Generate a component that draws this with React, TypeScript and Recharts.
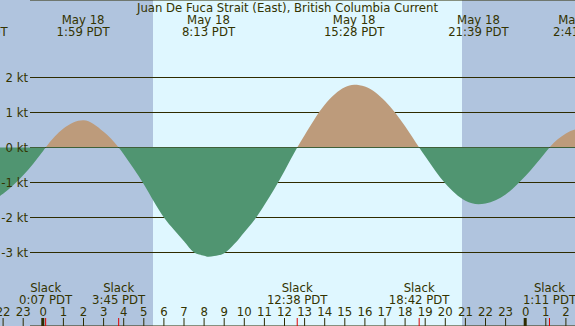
import React from "react";
import { AreaChart, Area, XAxis, YAxis, CartesianGrid } from "recharts";

const TITLE = "Juan De Fuca Strait (East), British Columbia Current";

// hours from midnight May 18 (PDT) and current speed in knots (+ flood / - ebb)
const hours = [
  -2.2, -2, -1, 0, 0.117, 1, 1.983, 2, 3, 3.75, 4, 4.5, 5, 5.5, 6, 6.5, 7, 7.5, 8, 8.217, 8.5, 9, 9.5, 10,
  10.5, 11, 11.5, 12, 12.633, 13, 14, 15, 15.467, 16, 17, 18, 18.7, 19, 20, 21, 21.65, 22, 23, 24, 25,
  25.183, 26, 26.5, 26.683,
];
const knots = [
  -1.4, -1.32, -0.79, -0.09, 0, 0.54, 0.78, 0.78, 0.45, 0, -0.19, -0.61, -1.05, -1.54, -2.0, -2.35, -2.68,
  -3.0, -3.09, -3.12, -3.1, -3.02, -2.76, -2.42, -2.07, -1.64, -1.18, -0.67, 0, 0.35, 1.22, 1.72, 1.79,
  1.74, 1.33, 0.61, 0, -0.25, -1.03, -1.52, -1.62, -1.6, -1.34, -0.81, -0.13, 0, 0.4, 0.52, 0.53,
];

const extremeHours = [-3.28, 1.983, 8.217, 15.467, 21.65, 26.683];
const extremeDates = ["May 17", "May 18", "May 18", "May 18", "May 18", "May 19"];
const extremeTimes = ["20:43 PDT", "1:59 PDT", "8:13 PDT", "15:28 PDT", "21:39 PDT", "2:41 PDT"];

const slackHours = [0.117, 3.75, 12.633, 18.7, 25.183];
const slackTimes = ["0:07 PDT", "3:45 PDT", "12:38 PDT", "18:42 PDT", "1:11 PDT"];

const hourTicks = [-4, -3, -2, -1, 0, 1, 2, 3, 4, 5, 6, 7, 8, 9, 10, 11, 12, 13, 14, 15, 16, 17, 18, 19, 20, 21, 22, 23, 24, 25, 26, 27, 28];
const knotTicks = [-3, -2, -1, 0, 1, 2];

const sunrise = 5.458;
const sunset = 20.83;

// layout
const VIEW_W = 575;
const H = 326;
const PAD = 40; // chart is wider than the view so off-edge labels get clipped
const W = VIEW_W + 2 * PAD;
const PX_PER_HOUR = 20.1;
const X_MIDNIGHT = 43.3;
const PX_PER_KT = 35;
const Y_ZERO = 147.5;
const hMin = (-PAD - X_MIDNIGHT) / PX_PER_HOUR;
const hMax = (W - PAD - X_MIDNIGHT) / PX_PER_HOUR;
const kMax = Y_ZERO / PX_PER_KT;
const kMin = kMax - H / PX_PER_KT;

const NIGHT = "#b0c4de";
const DAY = "#dff7ff";
const FLOOD = "#bd9b7b";
const EBB = "#509571";
const INK = "#333300";
const RULE = "#2e2b00";
const FONT = "'DejaVu Sans', sans-serif";
const FS = 11.7;

const data = hours.map((t, i) => ({ t, v: knots[i] }));
const vMax = Math.max(...knots);
const vMin = Math.min(...knots);
const split = vMax / (vMax - vMin);

const near = (list: number[], v: number) => {
  let best = 0;
  list.forEach((h, i) => {
    if (Math.abs(h - v) < Math.abs(list[best] - v)) best = i;
  });
  return best;
};

function HourTick(props: any) {
  const { x, payload } = props;
  const label = ((Math.round(payload.value) % 24) + 24) % 24;
  return (
    <g>
      <text x={x} y={H - 10.2} textAnchor="middle" fill={INK} fontSize={FS} fontFamily={FONT}>
        {label}
      </text>
      {label === 0 ? (
        <rect x={x - 2} y={H - 8} width={3} height={8} fill={RULE} />
      ) : (
        <line x1={x} x2={x} y1={H - 8} y2={H} stroke={RULE} />
      )}
    </g>
  );
}

function SlackTick(props: any) {
  const { x, payload } = props;
  const i = near(slackHours, payload.value);
  return (
    <g>
      <line x1={x} x2={x} y1={H - 8} y2={H} stroke="#e00000" />
      <text x={x} y={H - 34.2} textAnchor="middle" fill={INK} fontSize={FS} fontFamily={FONT}>
        Slack
      </text>
      <text x={x} y={H - 21.8} textAnchor="middle" fill={INK} fontSize={FS} fontFamily={FONT}>
        {slackTimes[i]}
      </text>
    </g>
  );
}

function ExtremeTick(props: any) {
  const { x, payload } = props;
  const i = near(extremeHours, payload.value);
  return (
    <g>
      <text x={x} y={23.5} textAnchor="middle" fill={INK} fontSize={FS} fontFamily={FONT}>
        {extremeDates[i]}
      </text>
      <text x={x} y={36.2} textAnchor="middle" fill={INK} fontSize={FS} fontFamily={FONT}>
        {extremeTimes[i]}
      </text>
    </g>
  );
}

function KnotTick(props: any) {
  const { y, payload } = props;
  return (
    <text x={PAD + 28} y={y + 4.5} textAnchor="end" fill={INK} fontSize={FS} fontFamily={FONT}>
      {payload.value} kt
    </text>
  );
}

const axisCommon = {
  dataKey: "t",
  type: "number" as const,
  domain: [hMin, hMax],
  allowDataOverflow: true,
  interval: 0 as const,
  mirror: true,
  axisLine: false,
  tickLine: false,
};

export default function App() {
  return (
    <div style={{ position: "fixed", left: 0, top: 0, width: VIEW_W, height: H, overflow: "hidden", background: DAY }}>
      <div style={{ position: "absolute", left: -PAD, top: 0 }}>
        <AreaChart width={W} height={H} data={data} margin={{ top: 0, right: 0, bottom: 0, left: 0 }}>
          <defs>
            <linearGradient id="split" x1="0" y1="0" x2="0" y2="1">
              <stop offset={split} stopColor={FLOOD} />
              <stop offset={split} stopColor={EBB} />
            </linearGradient>
          </defs>
          {/* night / day bands */}
          <CartesianGrid
            horizontal={false}
            verticalValues={[sunrise, sunset]}
            verticalFill={[NIGHT, DAY, NIGHT]}
            fillOpacity={1}
            stroke="none"
          />
          {/* knot rules, starting right of the labels */}
          <CartesianGrid vertical={false} x={PAD + 30} width={W - PAD - 30} stroke={RULE} strokeWidth={1} />
          <Area
            type="monotone"
            dataKey="v"
            stroke="none"
            fill="url(#split)"
            fillOpacity={1}
            baseValue={0}
            dot={false}
            activeDot={false}
            isAnimationActive={false}
          />
          <XAxis {...axisCommon} ticks={hourTicks} tick={(p: any) => <HourTick {...p} />} />
          <XAxis {...axisCommon} xAxisId="slack" ticks={slackHours} tick={(p: any) => <SlackTick {...p} />} />
          <XAxis
            {...axisCommon}
            xAxisId="ext"
            orientation="top"
            ticks={extremeHours}
            tick={(p: any) => <ExtremeTick {...p} />}
          />
          <YAxis
            type="number"
            domain={[kMin, kMax]}
            allowDataOverflow
            ticks={knotTicks}
            interval={0}
            mirror
            axisLine={false}
            tickLine={false}
            tick={(p: any) => <KnotTick {...p} />}
          />
        </AreaChart>
      </div>
      <svg width={VIEW_W} height={H} style={{ position: "absolute", left: 0, top: 0, pointerEvents: "none" }}>
        <text x={VIEW_W / 2} y={11.8} textAnchor="middle" fill={INK} fontSize={FS} fontFamily={FONT}>
          {TITLE}
        </text>
      </svg>
    </div>
  );
}
